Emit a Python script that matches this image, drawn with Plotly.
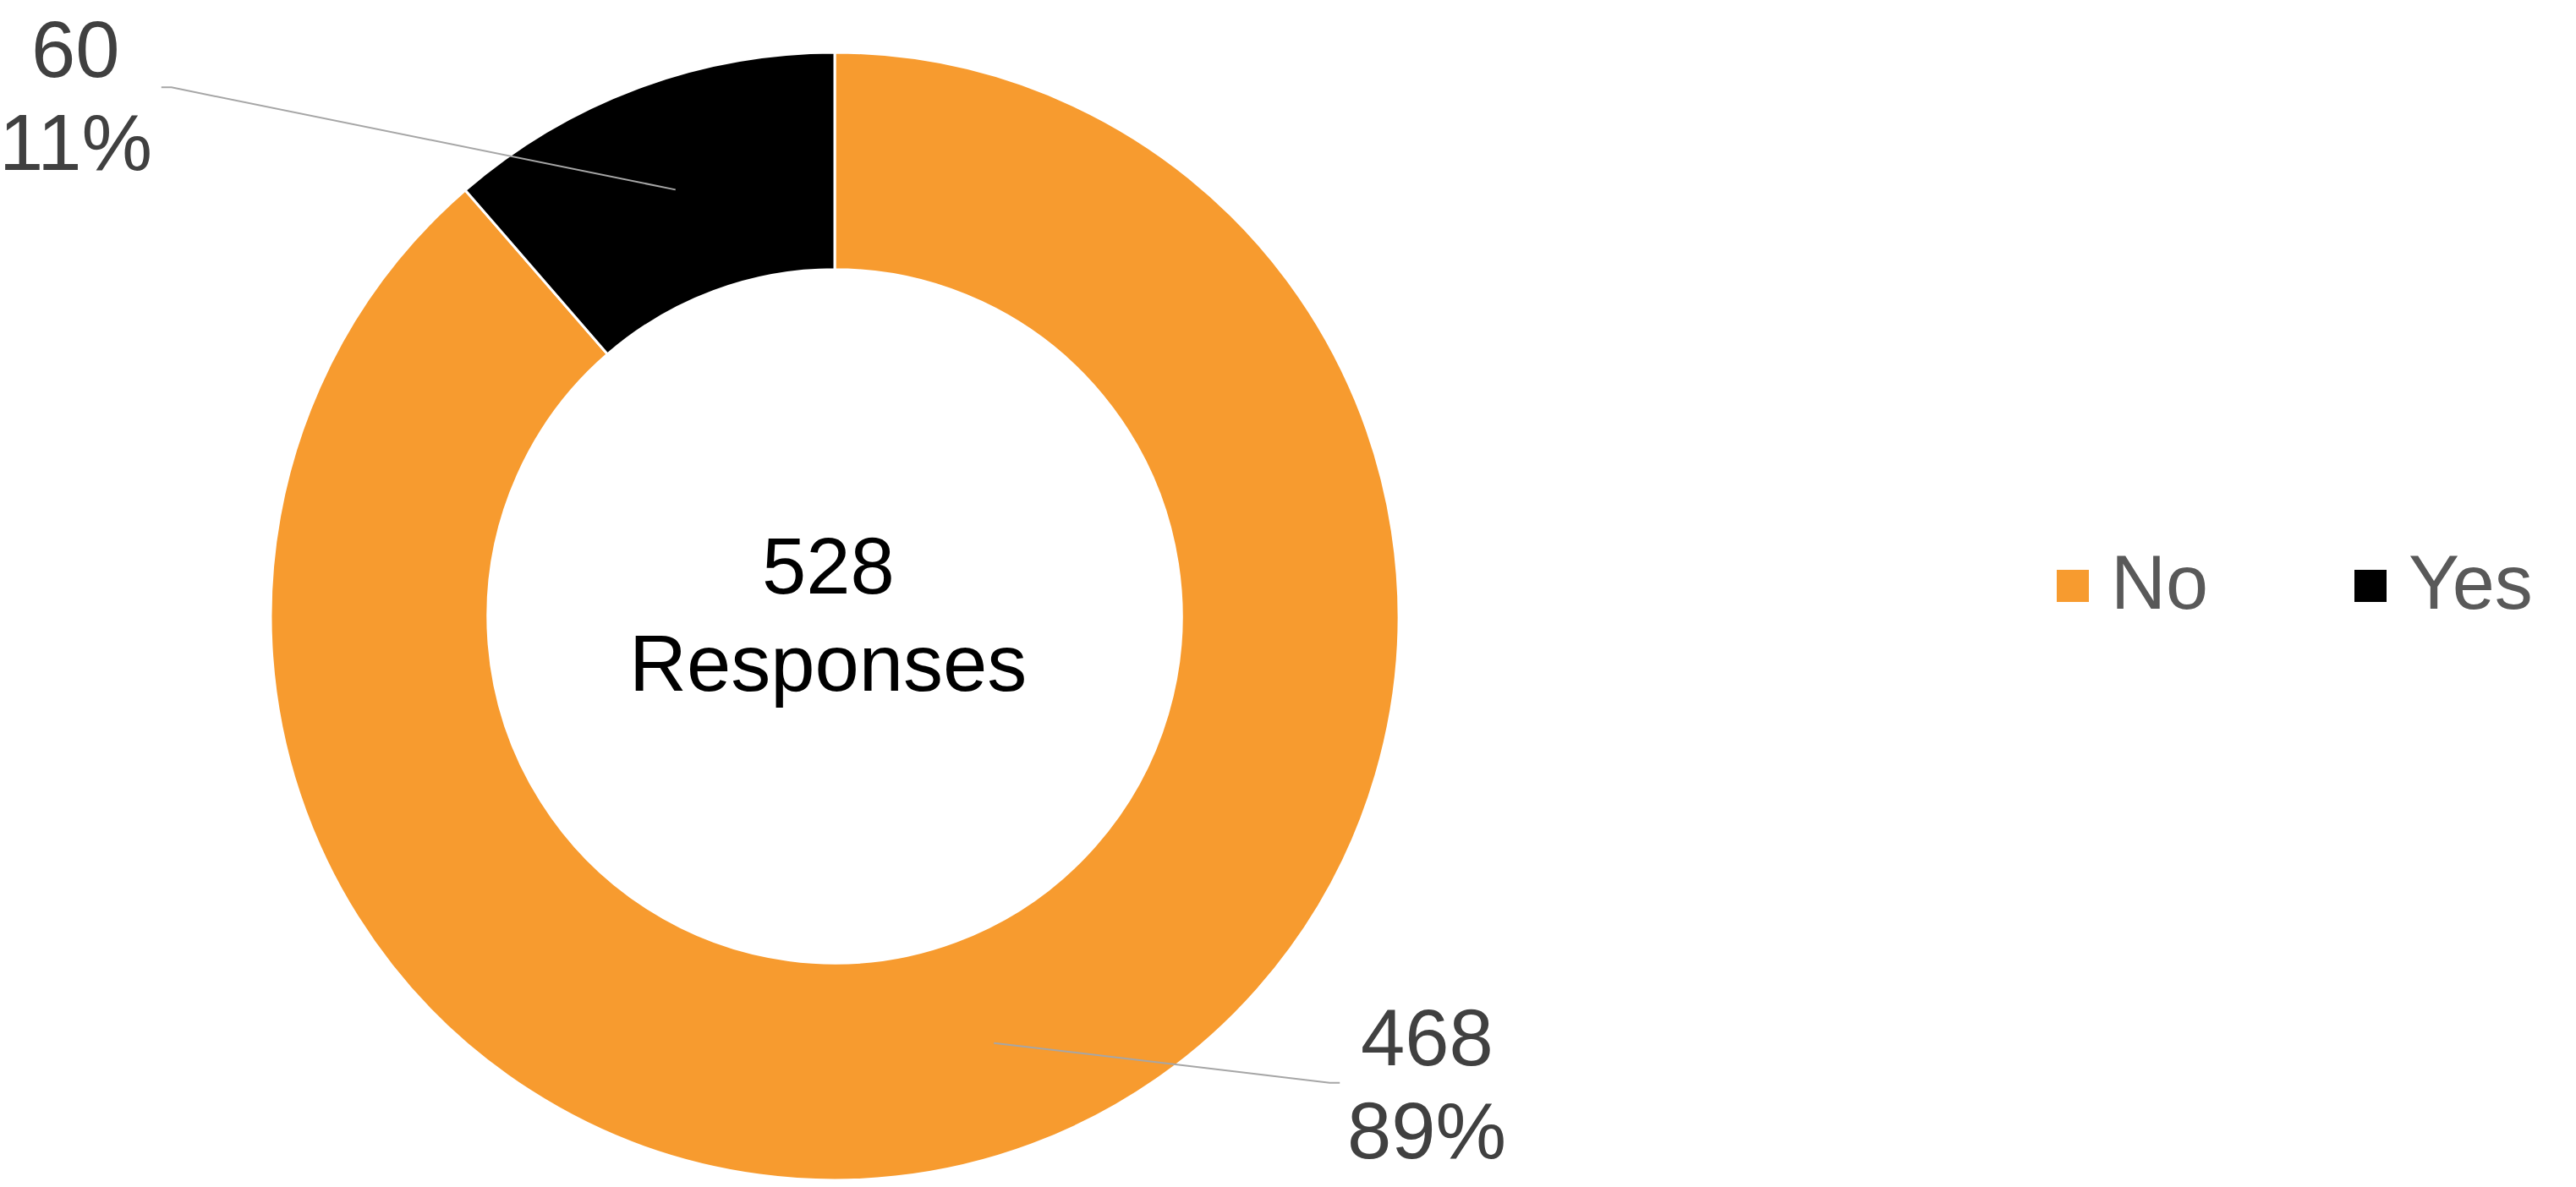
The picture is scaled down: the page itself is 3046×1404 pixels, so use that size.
import math
import plotly.graph_objects as go

# Survey answers
categories = ["No", "Yes"]
counts = [468, 60]
colors = ["#F79B2F", "#000000"]
center_caption = "Responses"

# Canvas and donut geometry (pixels)
W, H = 3046, 1404
CX, CY = 987, 729
R_OUT = 667
HOLE = 0.615

FONT = "Arial, Liberation Sans, sans-serif"
LABEL_SIZE = 94
LINE_GAP = 110

# Data-label placement relative to each leader line's start (pixels)
label_offsets = {"No": (512, 49), "Yes": (-709, -111)}
leader_tips = {"No": (409, 47), "Yes": (-608, -121)}
ELBOW = 12


def px(x):
    return x / W


def py(y):
    return 1 - y / H


total = sum(counts)

fig = go.Figure()
fig.add_trace(go.Pie(
    labels=categories,
    values=counts,
    hole=HOLE,
    sort=False,
    direction="clockwise",
    rotation=0,
    marker=dict(colors=colors, line=dict(color="#FFFFFF", width=3)),
    textinfo="none",
    showlegend=False,
    domain=dict(x=[px(CX - R_OUT), px(CX + R_OUT)],
                y=[py(CY + R_OUT), py(CY - R_OUT)]),
))

annotations = []
shapes = []

# Total in the hole
annotations.append(dict(x=px(979), y=py(669), xref="paper", yref="paper",
                        text=str(total), showarrow=False, xanchor="center",
                        yanchor="middle", font=dict(family=FONT, size=LABEL_SIZE, color="#000000")))
annotations.append(dict(x=px(979), y=py(784), xref="paper", yref="paper",
                        text=center_caption, showarrow=False, xanchor="center",
                        yanchor="middle", font=dict(family=FONT, size=LABEL_SIZE, color="#000000")))

# Value / percent labels with leader lines from the middle of each slice
r_mid = R_OUT * (1 + HOLE) / 2
start_angle = 0.0
for cat, val in zip(categories, counts):
    sweep = 360.0 * val / total
    mid = math.radians(start_angle + sweep / 2)
    start_angle += sweep
    sx = CX + r_mid * math.sin(mid)
    sy = CY - r_mid * math.cos(mid)

    tdx, tdy = leader_tips[cat]
    ex, ey = sx + tdx, sy + tdy
    side = 1 if tdx > 0 else -1
    bx = ex - side * ELBOW
    shapes.append(dict(type="path", xref="paper", yref="paper",
                       path=f"M {px(sx)},{py(sy)} L {px(bx)},{py(ey)} L {px(ex)},{py(ey)}",
                       line=dict(color="#A6A6A6", width=2)))

    ldx, ldy = label_offsets[cat]
    lx, ly = sx + ldx, sy + ldy
    pct = f"{round(100 * val / total)}%"
    for i, txt in enumerate([str(val), pct]):
        annotations.append(dict(x=px(lx), y=py(ly - LINE_GAP / 2 + i * LINE_GAP),
                                xref="paper", yref="paper", text=txt, showarrow=False,
                                xanchor="center", yanchor="middle",
                                font=dict(family=FONT, size=LABEL_SIZE, color="#404040")))

# Legend: coloured squares with category names
LEG_Y = 693
LEG_SQ = 38
leg_x = [2432, 2784]
for cat, col, x0 in zip(categories, colors, leg_x):
    shapes.append(dict(type="rect", xref="paper", yref="paper",
                       x0=px(x0), x1=px(x0 + LEG_SQ),
                       y0=py(LEG_Y + LEG_SQ / 2), y1=py(LEG_Y - LEG_SQ / 2),
                       fillcolor=col, line=dict(width=0)))
    annotations.append(dict(x=px(x0 + LEG_SQ + 24), y=py(LEG_Y - 4), xref="paper", yref="paper",
                            text=cat, showarrow=False, xanchor="left", yanchor="middle",
                            font=dict(family=FONT, size=90, color="#595959")))

fig.update_layout(
    width=W, height=H,
    margin=dict(l=0, r=0, t=0, b=0),
    paper_bgcolor="#FFFFFF",
    plot_bgcolor="#FFFFFF",
    annotations=annotations,
    shapes=shapes,
)

fig.write_html("out.html")
